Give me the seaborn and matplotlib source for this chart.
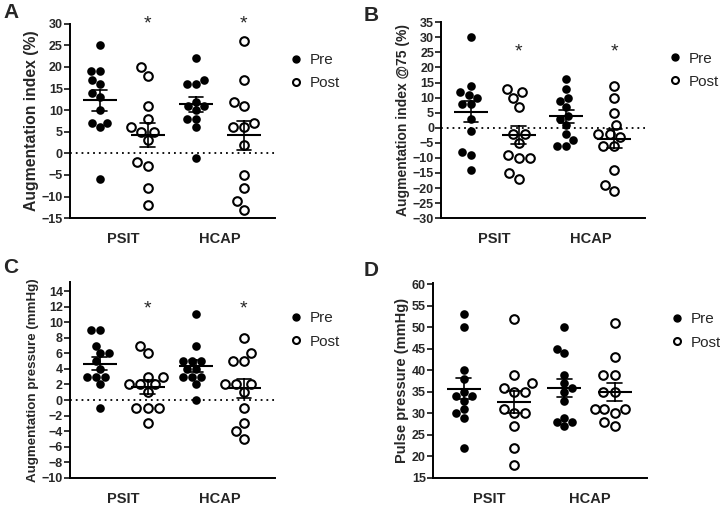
"""
    Pre/Post scatter panels (mean +/- SEM) for PSIT and HCAP
"""

import seaborn as sns
import pandas as pd
import matplotlib.pyplot as plt
from matplotlib.lines import Line2D

sns.set_style('ticks')
plt.rcParams['font.family'] = ['Liberation Sans', 'DejaVu Sans']

groups = ['PSIT', 'HCAP']
times = ['Pre', 'Post']
order = ['PSIT Pre', 'PSIT Post', 'HCAP Pre', 'HCAP Post']

# A - Augmentation index (%)
aix_psit_pre = [25, 19, 19, 17, 16, 14, 13, 10, 7, 7, 6, -6]
aix_psit_post = [20, 18, 11, 8, 6, 5, 5, 3, -2, -3, -8, -12]
aix_hcap_pre = [22, 17, 16, 16, 12, 11, 11, 10, 8, 8, 6, -1]
aix_hcap_post = [26, 17, 12, 11, 7, 6, 6, 2, -5, -8, -11, -13]

# B - Augmentation index @75 (%)
aix75_psit_pre = [30, 14, 12, 11, 10, 8, 8, 3, -1, -8, -9, -14]
aix75_psit_post = [13, 12, 10, 7, -2, -2, -5, -9, -10, -10, -15, -17]
aix75_hcap_pre = [16, 13, 10, 9, 7, 4, 3, 1, -2, -4, -6, -6]
aix75_hcap_post = [14, 10, 5, 1, -2, -2, -3, -6, -6, -14, -19, -21]

# C - Augmentation pressure (mmHg)
ap_psit_pre = [9, 9, 7, 6, 6, 5, 4, 3, 3, 3, 2, -1]
ap_psit_post = [7, 6, 3, 3, 2, 2, 2, 1, -1, -1, -1, -3]
ap_hcap_pre = [11, 7, 5, 5, 5, 4, 4, 3, 3, 3, 2, 0]
ap_hcap_post = [8, 6, 5, 5, 2, 2, 2, 1, -1, -3, -4, -5]

# D - Pulse pressure (mmHg)
pp_psit_pre = [53, 50, 40, 38, 35, 34, 34, 33, 31, 30, 29, 22]
pp_psit_post = [52, 39, 37, 36, 35, 35, 31, 30, 30, 27, 22, 18]
pp_hcap_pre = [50, 45, 44, 39, 37, 36, 35, 33, 29, 28, 28, 27]
pp_hcap_post = [51, 43, 39, 39, 35, 35, 31, 31, 31, 30, 28, 27]


def make_frame(psit_pre, psit_post, hcap_pre, hcap_post):
    # long-form table: one row per subject value
    rows = []
    sets = [('PSIT', 'Pre', psit_pre), ('PSIT', 'Post', psit_post),
            ('HCAP', 'Pre', hcap_pre), ('HCAP', 'Post', hcap_post)]
    for grp, time, vals in sets:
        for v in vals:
            rows.append({'cond': f'{grp} {time}', 'time': time, 'value': v})
    return pd.DataFrame(rows)


def draw_panel(ax, df, ylabel, ylim, yticks, zero_line, star_y,
               label_size=10, legend_x=1.03):
    pre = df[df['time'] == 'Pre']
    post = df[df['time'] == 'Post']

    sns.swarmplot(data=pre, x='cond', y='value', order=order, color='black',
                  size=6.2, ax=ax, zorder=3)
    sns.swarmplot(data=post, x='cond', y='value', order=order, color='white',
                  edgecolor='black', linewidth=1.5, size=6.2, ax=ax, zorder=3)

    # mean line + SEM error bars
    sns.pointplot(data=df, x='cond', y='value', order=order, errorbar='se',
                  capsize=0.3, linestyle='none', marker='_', markersize=24,
                  markeredgewidth=1.5, color='black',
                  err_kws={'linewidth': 1.2}, ax=ax, zorder=4)

    if zero_line:
        ax.axhline(0, color='black', linestyle=(0, (1, 2.2)), linewidth=1.3, zorder=1)

    if star_y is not None:
        for pos in [1, 3]:
            ax.text(pos, star_y, '*', ha='center', va='center', fontsize=14)

    ax.set_xlim(-0.62, 3.65)
    ax.set_ylim(*ylim)
    ax.set_yticks(yticks)
    ax.set_xticks([0.5, 2.5], groups)
    ax.set_xlabel('')
    ax.set_ylabel(ylabel, fontsize=label_size, fontweight='bold', labelpad=2)
    for lab in ax.get_yticklabels():
        lab.set_fontweight('bold')
    for lab in ax.get_xticklabels():
        lab.set_fontweight('bold')
    ax.tick_params(axis='y', labelsize=9, length=4, width=1.3, pad=1)
    ax.tick_params(axis='x', labelsize=10.5, length=0, pad=10)
    sns.despine(ax=ax)
    for sp in ['left', 'bottom']:
        ax.spines[sp].set_linewidth(1.4)
        ax.spines[sp].set_color('black')

    handles = [
        Line2D([], [], marker='o', linestyle='none', color='black', markersize=5),
        Line2D([], [], marker='o', linestyle='none', markerfacecolor='white',
               markeredgecolor='black', markeredgewidth=1.5, markersize=5),
    ]
    ax.legend(handles, times, loc='upper left', bbox_to_anchor=(legend_x, 0.92),
              frameon=False, fontsize=11, handletextpad=0.3, labelspacing=0.6,
              handlelength=1.2)


fig = plt.figure(figsize=(7.2, 5.05), dpi=100)
ax_a = fig.add_axes([0.097, 0.568, 0.285, 0.385])
ax_b = fig.add_axes([0.6125, 0.568, 0.284, 0.388])
ax_c = fig.add_axes([0.097, 0.0535, 0.285, 0.388])
ax_d = fig.add_axes([0.601, 0.0535, 0.298, 0.386])

draw_panel(ax_a, make_frame(aix_psit_pre, aix_psit_post, aix_hcap_pre, aix_hcap_post),
           'Augmentation index (%)', (-15, 30), range(-15, 31, 5), True, 30,
           label_size=11.3, legend_x=0.99)
draw_panel(ax_b, make_frame(aix75_psit_pre, aix75_psit_post, aix75_hcap_pre, aix75_hcap_post),
           'Augmentation index @75 (%)', (-30, 35), range(-30, 36, 5), True, 25,
           label_size=10)
draw_panel(ax_c, make_frame(ap_psit_pre, ap_psit_post, ap_hcap_pre, ap_hcap_post),
           'Augmentation pressure (mmHg)', (-10, 15.15), range(-10, 15, 2), True, 11.7,
           label_size=9.6, legend_x=0.99)
draw_panel(ax_d, make_frame(pp_psit_pre, pp_psit_post, pp_hcap_pre, pp_hcap_post),
           'Pulse pressure (mmHg)', (15, 60.3), range(15, 61, 5), False, None,
           label_size=10.5)

for letter, x, y in [('A', 0.005, 0.975), ('B', 0.505, 0.97), ('C', 0.005, 0.47), ('D', 0.505, 0.465)]:
    fig.text(x, y, letter, fontsize=15, fontweight='bold', ha='left', va='center')

fig.savefig('out.png', dpi=100)
